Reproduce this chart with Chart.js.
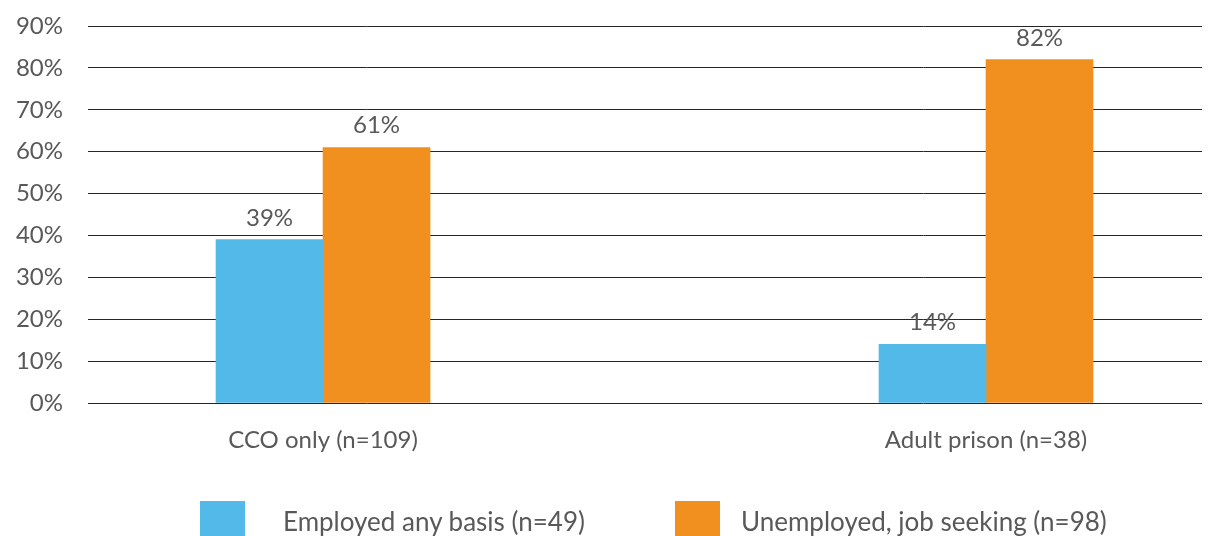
<!DOCTYPE html>
<html>
<head>
<meta charset="utf-8">
<script src="https://cdn.jsdelivr.net/npm/chart.js@4"></script>
<style>
    html, body { margin: 0; padding: 0; background: #fff; }
    #wrap { position: relative; width: 1214px; height: 536px; overflow: hidden; }
    .legend-item { position: absolute; font-family: Lato, sans-serif; font-size: 26px; line-height: 30px; color: #595959; white-space: nowrap; }
    .legend-box { position: absolute; top: 501px; width: 45px; height: 45px; }
</style>
</head>
<body>
<div id="wrap">
    <canvas id="barchart1" width="1214" height="536"></canvas>
    <div class="legend-box" id="box0" style="left:200px"></div>
    <div class="legend-item" id="lbl0" style="left:283px;top:506px"></div>
    <div class="legend-box" id="box1" style="left:675px"></div>
    <div class="legend-item" id="lbl1" style="left:741px;top:506px"></div>
</div>
<script>
    const categories = ['CCO only (n=109)', 'Adult prison (n=38)'];
    const seriesNames = ['Employed any basis (n=49)', 'Unemployed, job seeking (n=98)'];
    const employed = [39, 14];
    const unemployed = [61, 82];
    const yTicks = [0, 10, 20, 30, 40, 50, 60, 70, 80, 90];
    const colors = ['#52B9E9', '#F1901F'];

    const textColor = '#595959';

    // legend boxes in html
    seriesNames.forEach((name, i) => {
        document.getElementById('box' + i).style.background = colors[i];
        document.getElementById('lbl' + i).textContent = name;
    });

    // draw the % labels above bars
    const valueLabels = {
        id: 'valueLabels',
        afterDatasetsDraw(chart) {
            const ctx = chart.ctx;
            ctx.save();
            ctx.font = '24px Lato, sans-serif';
            ctx.fillStyle = textColor;
            ctx.textAlign = 'center';
            ctx.textBaseline = 'alphabetic';
            chart.data.datasets.forEach((ds, i) => {
                chart.getDatasetMeta(i).data.forEach((bar, j) => {
                    ctx.fillText(ds.data[j].y + '%', bar.x, bar.y - 14);
                });
            });
            ctx.restore();
        }
    };

    const ctx = document.getElementById('barchart1').getContext('2d');
    new Chart(ctx, {
        type: 'bar',
        data: {
            datasets: [{
                label: seriesNames[0],
                data: employed.map((v, i) => ({ x: i, y: v })),
                backgroundColor: colors[0]
            }, {
                label: seriesNames[1],
                data: unemployed.map((v, i) => ({ x: i, y: v })),
                backgroundColor: colors[1]
            }]
        },
        options: {
            responsive: false,
            animation: false,
            barThickness: 107,
            layout: {
                padding: { left: 0, right: 12, top: 26, bottom: 0 }
            },
            plugins: {
                legend: { display: false },
                tooltip: { enabled: false }
            },
            scales: {
                x: {
                    type: 'linear',
                    bounds: 'data',
                    offset: false,
                    min: -0.3545,
                    max: 1.3258,
                    grid: { display: false, drawTicks: false, offset: false },
                    border: { display: false },
                    afterBuildTicks: s => { s.ticks = categories.map((c, i) => ({ value: i })); },
                    afterFit: s => { s.height = 133; },
                    ticks: {
                        padding: 23,
                        color: textColor,
                        font: { family: 'Lato', size: 24 },
                        maxRotation: 0,
                        autoSkip: false,
                        callback: v => categories[v]
                    }
                },
                y: {
                    min: 0,
                    max: 90,
                    afterBuildTicks: s => { s.ticks = yTicks.map(v => ({ value: v })); },
                    afterFit: s => {
                        s.width = 88;
                        s.paddingTop = 0;
                        s.paddingBottom = 0;
                    },
                    grid: { color: '#262626', lineWidth: 1, drawTicks: false },
                    border: { display: false },
                    ticks: {
                        padding: 25,
                        color: textColor,
                        font: { family: 'Lato', size: 24 },
                        callback: v => v + '%'
                    }
                }
            }
        },
        plugins: [valueLabels]
    });
</script>
</body>
</html>
